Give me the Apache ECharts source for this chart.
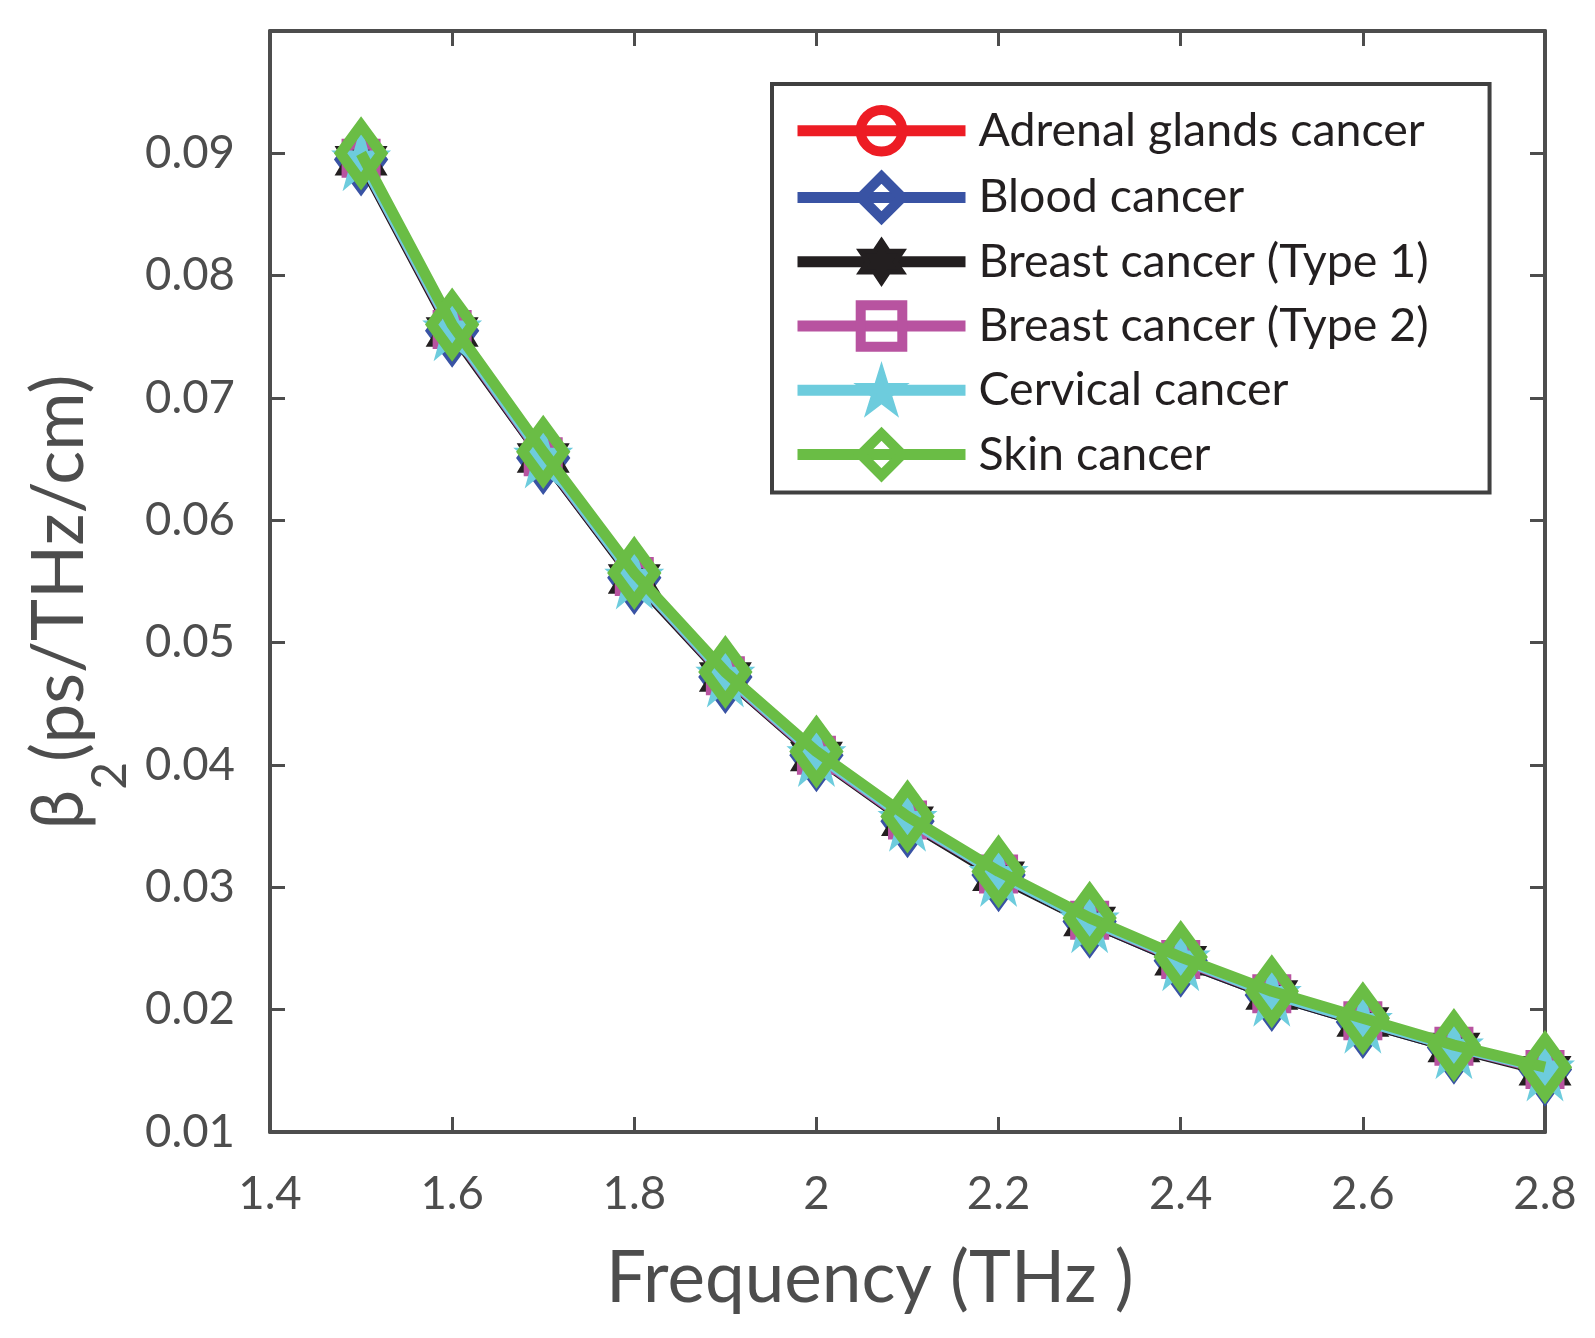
<!DOCTYPE html>
<html>
<head>
<meta charset="utf-8">
<script src="https://cdn.jsdelivr.net/npm/echarts@6/dist/echarts.min.js"></script>
<style>
  html, body { margin: 0; padding: 0; background: #fff; }
  #chart { width: 1595px; height: 1338px; }
</style>
</head>
<body>
<div id="chart"></div>
<script>
var freq = [1.5, 1.6, 1.7, 1.8, 1.9, 2.0, 2.1, 2.2, 2.3, 2.4, 2.5, 2.6, 2.7, 2.8];
var adrenal  = [0.0897, 0.0757, 0.0653, 0.0555, 0.0474, 0.0409, 0.0356, 0.0311, 0.0273, 0.0242, 0.0214, 0.0192, 0.0170, 0.0152];
var blood    = [0.0895, 0.0755, 0.0651, 0.0553, 0.0472, 0.0408, 0.0354, 0.0310, 0.0272, 0.0240, 0.0212, 0.0190, 0.0169, 0.0151];
var breast1  = [0.0894, 0.0754, 0.0651, 0.0552, 0.0472, 0.0407, 0.0354, 0.0309, 0.0272, 0.0240, 0.0212, 0.0190, 0.0169, 0.0150];
var breast2  = [0.0896, 0.0756, 0.0652, 0.0554, 0.0473, 0.0408, 0.0355, 0.0311, 0.0273, 0.0241, 0.0213, 0.0191, 0.0170, 0.0151];
var cervical = [0.0896, 0.0757, 0.0653, 0.0554, 0.0474, 0.0409, 0.0356, 0.0311, 0.0273, 0.0242, 0.0213, 0.0191, 0.0170, 0.0152];
var skin     = [0.0900, 0.0760, 0.0656, 0.0557, 0.0476, 0.0411, 0.0358, 0.0313, 0.0275, 0.0243, 0.0215, 0.0193, 0.0171, 0.0153];
var names = ['Adrenal glands cancer', 'Blood cancer', 'Breast cancer (Type 1)', 'Breast cancer (Type 2)', 'Cervical cancer', 'Skin cancer'];

var axisGray = '#4D4D4D';
var font = 'Lato, "Noto Sans", sans-serif';

// marker shapes (matlab hexagram / pentagram)
var hexagram = 'path://M100 0 L128.87 50 L186.6 50 L157.7 100 L186.6 150 L128.87 150 L100 200 L71.13 150 L13.4 150 L42.3 100 L13.4 50 L71.13 50 Z';
var pentagram = 'path://M100 0 L122.45 69.1 L195.1 69.1 L136.3 111.8 L158.8 180.9 L100 138.2 L41.2 180.9 L63.7 111.8 L4.9 69.1 L77.55 69.1 Z';

var styles = [
    { data: adrenal,  color: '#ED1C24', symbol: 'circle',  size: 34,       hollow: true },
    { data: blood,    color: '#3953A4', symbol: 'diamond', size: [41, 56], hollow: true },
    { data: breast1,  color: '#231F20', symbol: hexagram,  size: [53, 59], hollow: false },
    { data: breast2,  color: '#B853A0', symbol: 'rect',    size: 28,       hollow: true },
    { data: cervical, color: '#6DCCDD', symbol: pentagram, size: [60, 66], hollow: false },
    { data: skin,     color: '#6ABD45', symbol: 'diamond', size: [41, 56], hollow: true }
];

var series = styles.map(function (s, i) {
    return {
        name: names[i],
        type: 'line',
        z: 2 + i,
        data: freq.map(function (f, k) { return [f, s.data[k]]; }),
        symbol: s.symbol,
        symbolSize: s.size,
        showAllSymbol: true,
        lineStyle: { color: s.color, width: 11 },
        itemStyle: {
            color: s.hollow ? 'rgba(0,0,0,0)' : s.color,
            borderColor: s.color,
            borderWidth: s.hollow ? 11 : 0
        },
        emphasis: { disabled: true },
        animation: false
    };
});

var legendData = styles.map(function (s, i) {
    return {
        name: names[i],
        itemStyle: {
            color: s.hollow ? 'rgba(0,0,0,0)' : s.color,
            borderColor: s.color,
            borderWidth: s.hollow ? 10 : 5
        },
        lineStyle: { color: s.color, width: 11 }
    };
});

var tickStyle = { show: true, inside: true, length: 15, lineStyle: { color: axisGray, width: 3 } };
var lineStyleAx = { show: true, lineStyle: { color: axisGray, width: 4 } };

var chart = echarts.init(document.getElementById('chart'));
chart.setOption({
    backgroundColor: '#fff',
    animation: false,
    grid: { left: 270, right: 50, top: 31, bottom: 206, outerBoundsMode: 'none', containLabel: false },
    legend: {
        data: legendData,
        orient: 'vertical',
        left: 772,
        top: 84,
        padding: [21, 61, 12, 20],
        itemWidth: 168,
        itemHeight: 52,
        itemGap: 15,
        borderColor: '#404040',
        borderWidth: 4,
        backgroundColor: '#fff',
        selectedMode: false,
        textStyle: { fontFamily: font, fontSize: 46.5, color: '#231F20', padding: [0, 0, 0, 8] }
    },
    xAxis: [{
        type: 'value',
        min: 1.4,
        max: 2.8,
        interval: 0.2,
        axisLine: lineStyleAx,
        axisTick: tickStyle,
        splitLine: { show: false },
        axisLabel: { margin: 39, fontFamily: font, fontSize: 45.5, color: axisGray }
    }, {
        type: 'value',
        position: 'top',
        min: 1.4,
        max: 2.8,
        interval: 0.2,
        axisLine: lineStyleAx,
        axisTick: tickStyle,
        axisLabel: { show: false },
        splitLine: { show: false }
    }],
    yAxis: [{
        type: 'value',
        min: 0.01,
        max: 0.1,
        interval: 0.01,
        axisLine: lineStyleAx,
        axisTick: tickStyle,
        splitLine: { show: false },
        axisLabel: {
            margin: 35,
            fontFamily: font,
            fontSize: 45.5,
            color: axisGray,
            formatter: function (v) { return v > 0.095 ? '' : v.toFixed(2); }
        }
    }, {
        type: 'value',
        position: 'right',
        min: 0.01,
        max: 0.1,
        interval: 0.01,
        axisLine: lineStyleAx,
        axisTick: tickStyle,
        axisLabel: { show: false },
        splitLine: { show: false }
    }],
    graphic: [{
        type: 'text',
        left: 606,
        top: 1244,
        style: { text: 'Frequency (THz )', fontFamily: font, fontSize: 71, fill: axisGray }
    }, {
        type: 'text',
        x: 60,
        y: 602,
        rotation: Math.PI / 2,
        style: {
            text: '{b|β}{s|2}{b|(ps/THz/cm)}',
            align: 'center',
            verticalAlign: 'middle',
            fill: axisGray,
            rich: {
                b: { fontFamily: font, fontSize: 71, fill: axisGray, lineHeight: 80, verticalAlign: 'middle' },
                s: { fontFamily: font, fontSize: 48, fill: axisGray, lineHeight: 150, verticalAlign: 'bottom' }
            }
        }
    }],
    series: series
});
</script>
</body>
</html>
